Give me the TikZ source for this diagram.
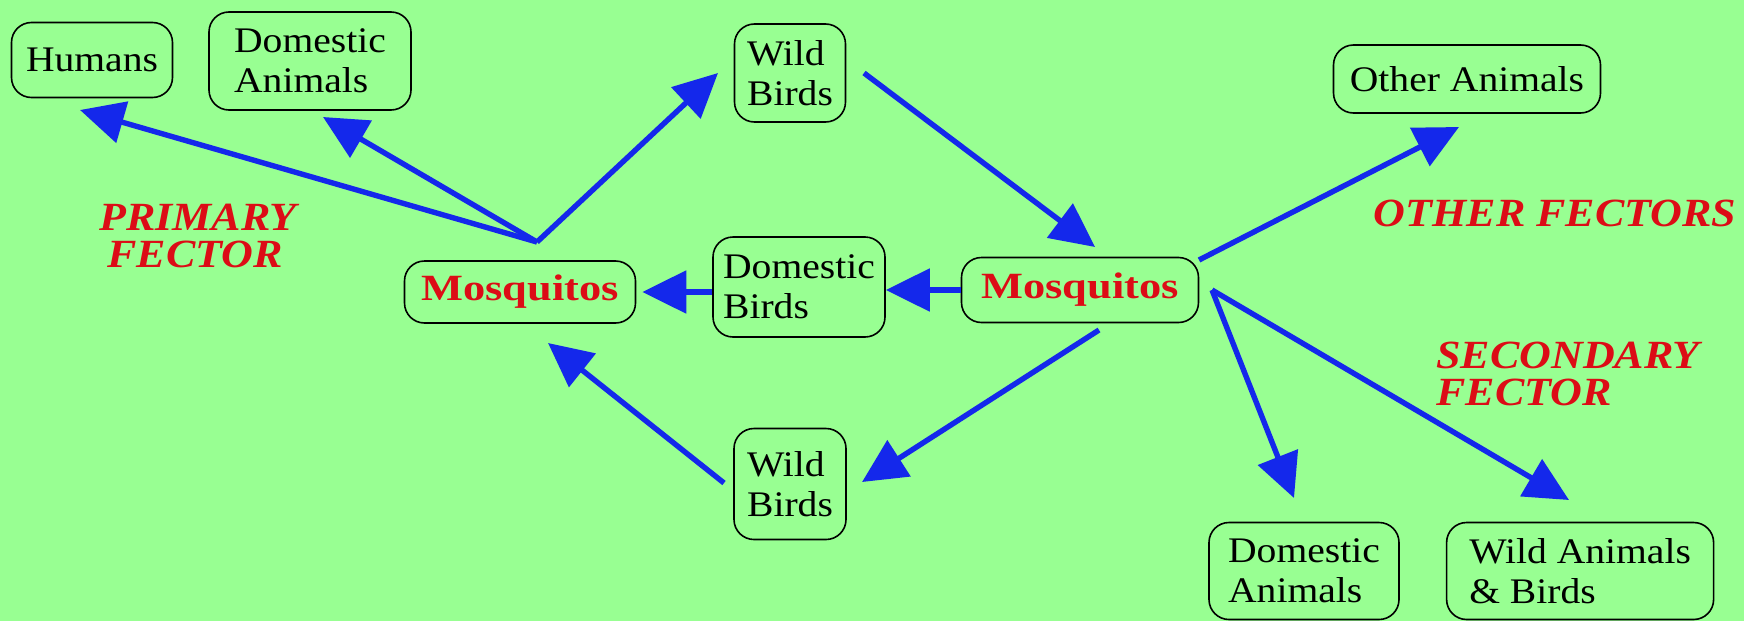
\documentclass[tikz,border=0pt]{standalone}
\usepackage{fontspec}
\setmainfont{Liberation Serif}
\newfontfamily\boxfont[FakeStretch=1.1]{Liberation Serif}
\newfontfamily\mosfont[FakeStretch=1.2]{Liberation Serif}
\newfontfamily\vecfont[FakeStretch=1.1]{Liberation Serif}
\usepackage{tikz}
\usetikzlibrary{positioning,arrows.meta}
\definecolor{bggreen}{RGB}{152,255,146}
\definecolor{arrowblue}{RGB}{20,40,235}
\definecolor{labelred}{RGB}{220,12,22}
\tikzset{
  host/.style={draw=black, line width=0.8pt, rounded corners=10pt, align=left,
    inner sep=0pt, font=\boxfont\fontsize{18}{20}\selectfont},
  mosq/.style={host, text=labelred, font=\mosfont\bfseries\fontsize{18.5}{20}\selectfont},
  spread/.style={draw=arrowblue, line width=2.7pt, -{Triangle[length=22pt,width=21pt]}},
  fector/.style={text=labelred, align=left,
    font=\vecfont\bfseries\itshape\fontsize{20}{18.5}\selectfont},
}

\begin{document}
\begin{tikzpicture}[x=0.5pt, y=-0.5pt]
    % background
    \fill[bggreen] (0,0) rectangle (1744,621);
    \useasboundingbox (0,0) rectangle (1744,621);
    % define nodes
    % primary side
    \node[host, minimum width=80.5pt, minimum height=37.5pt] (humans) at (92,60) {Humans};
    \node[host, minimum width=101pt, minimum height=49pt] (dom_an_top) at (310,61) {Domestic\\Animals};
    \node[host, minimum width=55.5pt, minimum height=49pt] (wild_top) at (790,73) {Wild\\Birds};
    \node[mosq, minimum width=115.5pt, minimum height=31pt] (mos_left) at (520,292) {Mosquitos};
    \node[host, minimum width=86pt, minimum height=50pt] (dom_birds) at (799,287) {Domestic\\Birds};
    \node[host, minimum width=56pt, minimum height=55.5pt] (wild_bot) at (790,484) {Wild\\Birds};
    % secondary side
    \node[mosq, minimum width=118.5pt, minimum height=32.5pt] (mos_right) at (1080,290) {Mosquitos};
    \node[host, minimum width=133.5pt, minimum height=34pt] (other_an) at (1467,79) {Other Animals};
    \node[host, minimum width=95pt, minimum height=48.5pt] (dom_an_bot) at (1304,571) {Domestic\\Animals};
    \node[host, minimum width=133.5pt, minimum height=48.5pt, right=23pt of dom_an_bot] (wild_an) {Wild Animals\\\& Birds};
    % arrow ends
    \coordinate (hub) at (537,242);
    \coordinate (humans_tip) at (80,110);
    \coordinate (dom_an_top_tip) at (323,117);
    \coordinate (wild_top_tip) at (718,73);
    \coordinate (wild_top_out) at (864,73);
    \coordinate (mos_right_tip) at (1095,247);
    \coordinate (mos_right_low) at (1099,330);
    \coordinate (wild_bot_tip) at (862,482);
    \coordinate (wild_bot_out) at (724,483);
    \coordinate (mos_left_tip) at (548,343);
    \coordinate (mos_right_up) at (1199,260);
    \coordinate (other_an_tip) at (1459,127);
    \coordinate (fan) at (1212,290);
    \coordinate (dom_an_bot_tip) at (1294,498);
    \coordinate (wild_an_tip) at (1569,500);
    % draw arrows
    \draw[spread] (hub) -- (humans_tip);
    \draw[spread] (hub) -- (dom_an_top_tip);
    \draw[spread] (hub) -- (wild_top_tip);
    \draw[spread] (wild_top_out) -- (mos_right_tip);
    \draw[spread] (mos_right.west) -- (dom_birds.east |- mos_right.west);
    \draw[spread] (dom_birds.west |- mos_left.east) -- ([xshift=3pt]mos_left.east);
    \draw[spread] (mos_right_low) -- (wild_bot_tip);
    \draw[spread] (wild_bot_out) -- (mos_left_tip);
    \draw[spread] (mos_right_up) -- (other_an_tip);
    \draw[spread] (fan) -- (dom_an_bot_tip);
    \draw[spread] (fan) -- (wild_an_tip);
    % add labels
    \node[fector] (primary) at (198,236) {PRIMARY\\\hspace*{4pt}FECTOR};
    \node[fector] (other_vec) at (1555,213) {OTHER FECTORS};
    \node[fector] (secondary) at (1568,374) {SECONDARY\\FECTOR};
\end{tikzpicture}
\end{document}
